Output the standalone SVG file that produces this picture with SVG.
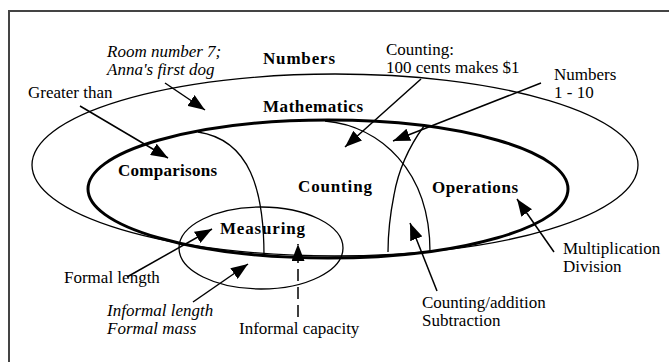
<svg xmlns="http://www.w3.org/2000/svg" width="669" height="362" viewBox="0 0 669 362">
<style>
text{font-family:"Liberation Serif","Times New Roman",serif;font-size:17px;fill:#000}
.b{font-weight:bold}
.i{font-style:italic}
.thin{fill:none;stroke:#000;stroke-width:1.3}
.thick{fill:none;stroke:#000;stroke-width:3}
.arr{fill:none;stroke:#000;stroke-width:1.5;marker-end:url(#ah)}
</style>
<defs>
<marker id="ah" markerUnits="userSpaceOnUse" markerWidth="17" markerHeight="13" refX="17" refY="6.5" orient="auto">
<path d="M0,0 L17,6.5 L0,13 z" fill="#000"/>
</marker>
</defs>
<rect width="669" height="362" fill="#fff"/>
<rect x="9" y="11" width="680" height="380" fill="none" stroke="#444" stroke-width="2"/>
<g id="numbers">
<ellipse class="thin" cx="335" cy="165" rx="303" ry="91"/>
<text class="b" x="263" y="64" textLength="72" lengthAdjust="spacing">Numbers</text>
</g>
<g id="mathematics">
<ellipse class="thick" cx="328" cy="189" rx="240" ry="69"/>
<text class="b" x="263" y="112" textLength="100" lengthAdjust="spacing">Mathematics</text>
</g>
<g id="comparisons">
<path class="thin" d="M198,132 C250,140 264,190 264,256"/>
<text class="b" x="118" y="176" textLength="99" lengthAdjust="spacing">Comparisons</text>
</g>
<g id="counting">
<path class="thin" d="M325,121 C380,126 430,170 430,252"/>
<text class="b" x="298" y="192" textLength="74" lengthAdjust="spacing">Counting</text>
</g>
<g id="operations">
<path class="thin" d="M424,126 C408,148 398,172 394,195 C390,215 388,235 388,252"/>
<text class="b" x="432" y="193" textLength="86" lengthAdjust="spacing">Operations</text>
</g>
<g id="measuring">
<ellipse class="thin" cx="261" cy="248" rx="82" ry="41"/>
<text class="b" x="220" y="234" textLength="85" lengthAdjust="spacing">Measuring</text>
</g>
<g id="connectors">
<line class="arr" x1="165" y1="83" x2="205" y2="110"/>
<line class="arr" x1="80" y1="106" x2="168" y2="158"/>
<line class="arr" x1="421" y1="79" x2="345" y2="147"/>
<line class="arr" x1="541" y1="83" x2="393" y2="141"/>
<line class="arr" x1="127" y1="277" x2="212" y2="229"/>
<line class="arr" x1="193" y1="302" x2="248" y2="264"/>
<line class="arr" x1="298" y1="317" x2="298" y2="244" stroke-dasharray="12,6"/>
<line class="arr" x1="437" y1="291" x2="410" y2="223"/>
<line class="arr" x1="554" y1="252" x2="517" y2="199"/>
</g>
<g id="label-room">
<text class="i" x="107" y="57">Room number 7;</text>
<text class="i" x="107" y="75">Anna's first dog</text>
</g>
<g id="label-greater"><text x="28" y="98">Greater than</text></g>
<g id="label-cents">
<text x="386" y="55">Counting:</text>
<text x="386" y="73">100 cents makes $1</text>
</g>
<g id="label-numbers110">
<text x="554" y="80">Numbers</text>
<text x="554" y="98">1 - 10</text>
</g>
<g id="label-formal-length"><text x="64" y="283">Formal length</text></g>
<g id="label-informal-length">
<text class="i" x="107" y="316">Informal length</text>
<text class="i" x="107" y="334">Formal mass</text>
</g>
<g id="label-capacity"><text x="239" y="334">Informal capacity</text></g>
<g id="label-addition">
<text x="422" y="308">Counting/addition</text>
<text x="422" y="326">Subtraction</text>
</g>
<g id="label-multiplication">
<text x="563" y="254">Multiplication</text>
<text x="563" y="272">Division</text>
</g>
</svg>
